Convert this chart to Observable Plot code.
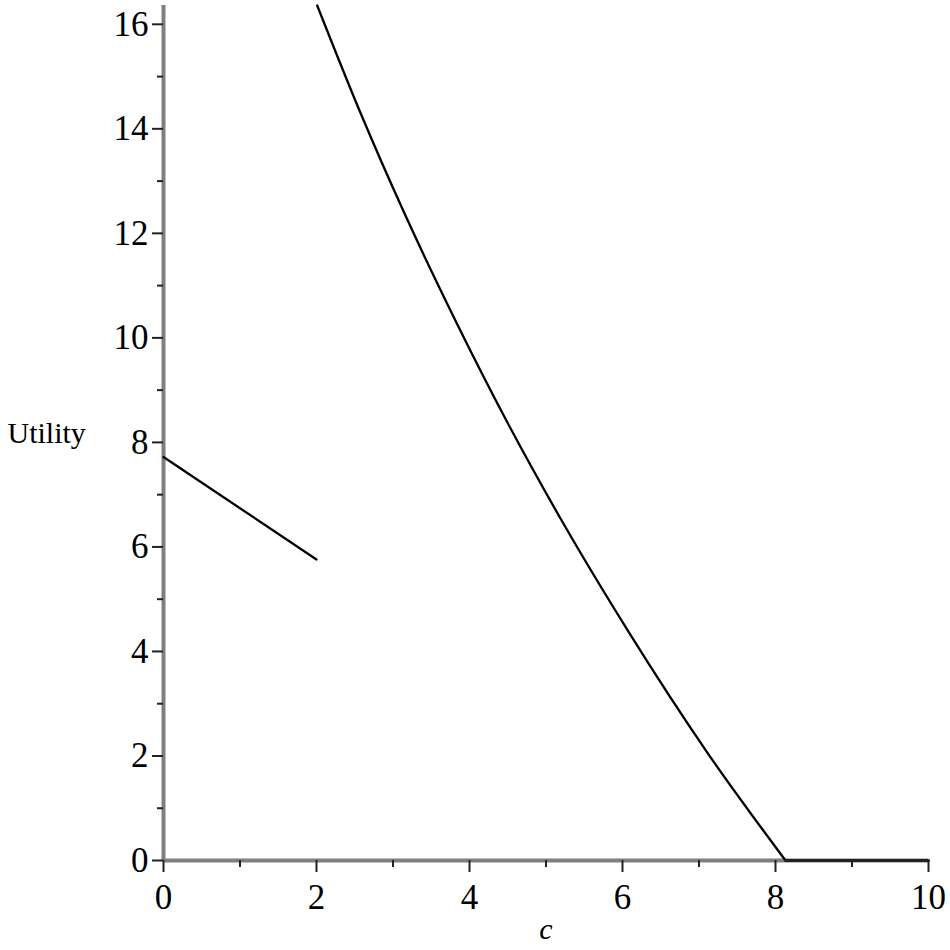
<!DOCTYPE html>
<html><head><meta charset="utf-8">
<script src="https://cdn.jsdelivr.net/npm/d3@7"></script>
<script src="https://cdn.jsdelivr.net/npm/@observablehq/plot@0.6"></script>
<style>body{margin:0;background:#fff}</style>
</head><body><div id="chart"></div>
<script>
// Short segment (c from 0 to 2)
const lowX = [0, 2];
const lowY = [7.72, 5.76];
// Long decreasing curve (c from 2 to ~8.13)
const highX = [2.009, 2.562, 3.163, 3.83, 4.536, 5.203, 6.082, 7.111, 8.131];
const highY = [16.36, 14.35, 12.34, 10.29, 8.27, 6.51, 4.37, 2.06, 0];
// Flat part at zero
const flatX = [8.131, 10];
const flatY = [0, 0];

const xMajor = [0, 2, 4, 6, 8, 10];
const xMinor = [1, 3, 5, 7, 9];
const yMajor = [0, 2, 4, 6, 8, 10, 12, 14, 16];
const yMinor = [1, 3, 5, 7, 9, 11, 13, 15];
const xLabel = "c";
const yLabel = "Utility";

const toRows = (xs, ys, s) => xs.map((x, i) => ({x, y: ys[i], s}));
const low = toRows(lowX, lowY, "low");
const high = toRows(highX, highY, "high");
const flat = toRows(flatX, flatY, "flat");
const fmt = d => String(d);

const chart = Plot.plot({
  width: 950,
  height: 950,
  marginLeft: 163,
  marginRight: 22,
  marginTop: 5,
  marginBottom: 90,
  style: {fontFamily: "Liberation Serif, Times New Roman, serif", background: "#fff", color: "#000"},
  x: {domain: [0, 10]},
  y: {domain: [0, d3.max(highY)]},
  marks: [
    Plot.ruleX([0], {stroke: "#7f7f7f", strokeWidth: 4}),
    Plot.ruleY([0], {stroke: "#7f7f7f", strokeWidth: 4}),
    Plot.axisX(xMajor, {tickSize: 12, tickPadding: 12, fontSize: 35, tickFormat: fmt, stroke: "#222", strokeWidth: 2, label: null}),
    Plot.axisX(xMinor, {tickSize: 7, tickFormat: () => "", stroke: "#222", strokeWidth: 2, label: null}),
    Plot.axisY(yMajor, {tickSize: 11, tickPadding: 4, fontSize: 35, tickFormat: fmt, stroke: "#222", strokeWidth: 2, label: null}),
    Plot.axisY(yMinor, {tickSize: 6, tickFormat: () => "", stroke: "#222", strokeWidth: 2, label: null}),
    Plot.line(low, {x: "x", y: "y", stroke: "#000", strokeWidth: 2.3}),
    Plot.line(high, {x: "x", y: "y", stroke: "#000", strokeWidth: 2.3, curve: "monotone-x"}),
    Plot.line(flat, {x: "x", y: "y", stroke: "#222", strokeWidth: 3}),
    Plot.text([yLabel], {frameAnchor: "left", dx: -156, textAnchor: "start", fontSize: 30, fill: "#000"}),
    Plot.text([xLabel], {frameAnchor: "bottom", dy: 78, fontSize: 30, fontStyle: "italic", fill: "#000"})
  ]
});
document.getElementById("chart").append(chart);
</script>
</body></html>
